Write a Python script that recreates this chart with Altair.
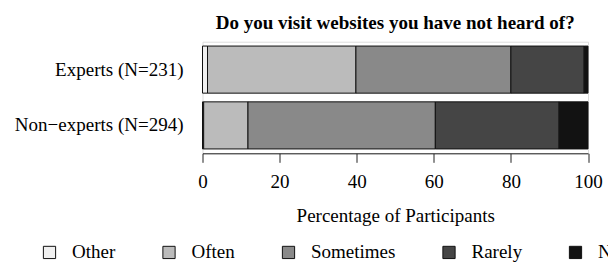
import altair as alt
import pandas as pd

groups = ["Experts (N=231)", "Non\u2212experts (N=294)"]
responses = ["Other", "Often", "Sometimes", "Rarely", "Never"]
colors = ["#f0f0f0", "#bbbbbb", "#898989", "#454545", "#121212"]
experts = [1.3, 38.5, 40.2, 19.0, 1.0]
non_experts = [0.3, 11.5, 48.6, 32.1, 7.5]
x_ticks = [0, 20, 40, 60, 80, 100]

rows = []
for g, vals in zip(groups, [experts, non_experts]):
    for i, (r, v) in enumerate(zip(responses, vals)):
        rows.append({"group": g, "response": r, "pct": v, "idx": i})
df = pd.DataFrame(rows)

FONT = "Liberation Serif"

chart = alt.Chart(df).mark_bar(stroke="#111111", strokeWidth=1).encode(
    x=alt.X("pct:Q", stack="zero",
            scale=alt.Scale(domain=[0, 100], nice=False, zero=True),
            axis=alt.Axis(values=x_ticks, title="Percentage of Participants",
                          grid=False, domainColor="#222222", tickColor="#222222",
                          tickSize=9, labelPadding=10.5, labelFont=FONT, labelFontSize=19,
                          labelColor="black", labelBaseline="top", labelFlush=False,
                          titleFont=FONT, titleFontSize=19, titleFontWeight="normal",
                          titleColor="black", titleBaseline="alphabetic", titleY=68.4)),
    y=alt.Y("group:N", sort=groups, title=None,
            scale=alt.Scale(paddingInner=0.156, paddingOuter=0.078),
            axis=alt.Axis(ticks=False, tickSize=0, domain=False, labelPadding=19.5,
                          labelFont=FONT, labelFontSize=19, labelColor="black",
                          labelBaseline="middle")),
    fill=alt.Fill("response:N", sort=responses,
                  scale=alt.Scale(domain=responses, range=colors),
                  legend=alt.Legend(title=None, orient="none", direction="horizontal",
                                    columns=5, legendX=-162.5, legendY=201,
                                    symbolType="square", symbolSize=150,
                                    symbolStrokeColor="#111111", symbolStrokeWidth=1,
                                    labelFont=FONT, labelFontSize=19, labelColor="black",
                                    labelOffset=13, columnPadding=43.5, labelLimit=300)),
    order=alt.Order("idx:Q", sort="ascending"),
).properties(
    width=385.5,
    height=111.6,
    autosize=alt.AutoSizeParams(type="none"),
    padding={"left": 194.5, "top": 33.7, "right": 20, "bottom": 108.7},
    title=alt.TitleParams(text="Do you visit websites you have not heard of?",
                          font=FONT, fontSize=19, fontWeight="bold", color="black",
                          anchor="middle", frame="group", baseline="alphabetic",
                          offset=17, dy=23),
).configure_view(stroke=None).configure(background="white")

chart.save("out.html", embed_options={"renderer": "svg", "actions": False})
